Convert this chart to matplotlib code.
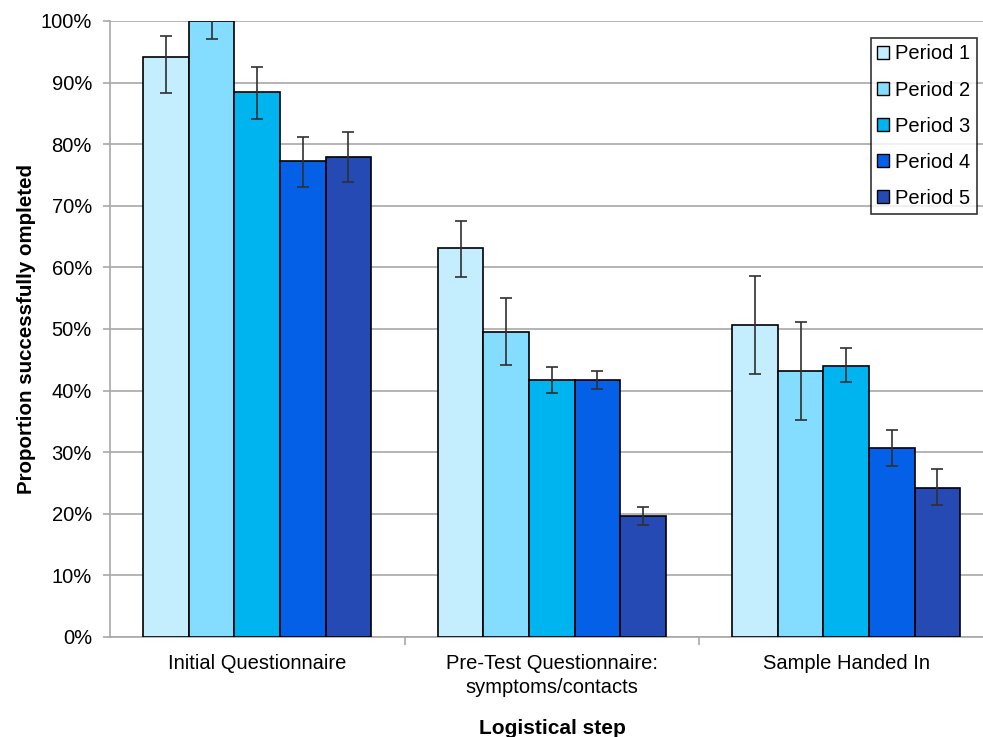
import matplotlib
matplotlib.use("Agg")
import matplotlib.pyplot as plt
import numpy as np

categories = ["Initial Questionnaire", "Pre-Test Questionnaire:\nsymptoms/contacts", "Sample Handed In"]
periods = ["Period 1", "Period 2", "Period 3", "Period 4", "Period 5"]
colors = ["#C4EEFD", "#84DDFE", "#00B4F0", "#0560E8", "#254AB3"]

# values (%) per period, across categories
values = [
    [94.2, 63.1, 50.6],
    [100.0, 49.5, 43.2],
    [88.5, 41.7, 44.0],
    [77.3, 41.7, 30.7],
    [77.9, 19.6, 24.2],
]
err_low = [
    [88.3, 58.4, 42.7],
    [97.1, 44.2, 35.2],
    [84.1, 39.6, 41.4],
    [73.1, 40.3, 27.8],
    [73.9, 18.2, 21.4],
]
err_high = [
    [97.6, 67.5, 58.6],
    [102.5, 55.0, 51.1],
    [92.5, 43.8, 46.9],
    [81.2, 43.2, 33.6],
    [82.0, 21.1, 27.3],
]

plt.rcParams['font.family'] = ['Liberation Sans', 'DejaVu Sans']
fig = plt.figure(figsize=(9.83, 7.37), dpi=100)
ax = fig.add_axes([110/983, 100/737, 873/983, 616/737])

bw = 0.1545
x = np.arange(len(categories))
for i in range(5):
    pos = x + (i - 2) * bw
    v = np.array(values[i])
    lo = v - np.array(err_low[i])
    hi = np.array(err_high[i]) - v
    ax.bar(pos, v, width=bw, color=colors[i], edgecolor="black", linewidth=1.2,
           label=periods[i], zorder=3)
    ax.errorbar(pos, v, yerr=[lo, hi], fmt="none", ecolor="#303030", elinewidth=1.2,
                capsize=4, capthick=1.2, zorder=4)

ax.set_xlim(-0.5, -0.5 + 873/294.5)
ax.set_ylim(0, 100)
ax.set_yticks(np.arange(0, 101, 10))
ax.set_yticklabels([f"{t}%" for t in range(0, 101, 10)], fontsize=14.5)
ax.yaxis.grid(True, color="#A8A8A8", linewidth=1.2, zorder=0)
ax.set_axisbelow(True)

ax.set_xticks(x)
ax.set_xticklabels(categories, fontsize=14.5, linespacing=1.3)
ax.tick_params(axis="x", length=0, pad=12.5)
ax.set_xticks([0.5, 1.5], minor=True)
ax.tick_params(axis="x", which="minor", length=6, color="#A8A8A8", width=1.2)
ax.tick_params(axis="y", length=5, color="#A8A8A8", width=1.2, pad=8)

for s in ["top", "right"]:
    ax.spines[s].set_visible(False)
for s in ["left", "bottom"]:
    ax.spines[s].set_color("#A8A8A8")
    ax.spines[s].set_linewidth(1.2)

ax.set_ylabel("Proportion successfully ompleted", fontsize=14.75, fontweight="bold", labelpad=3)
fig.text(552/983, 1 - 728/737, "Logistical step", ha="center", va="center",
         fontsize=15, fontweight="bold")

leg = ax.legend(loc="upper right", bbox_to_anchor=(867/873, 1 - 17/616), fontsize=14.5,
                frameon=True, fancybox=False, edgecolor="black", handlelength=0.6,
                handleheight=0.6, handletextpad=0.3, labelspacing=0.85, borderpad=0.32,
                borderaxespad=0)
leg.get_frame().set_linewidth(1.2)
for h in leg.legend_handles:
    h.set_linewidth(1.0)

fig.savefig("out.png", dpi=100)
